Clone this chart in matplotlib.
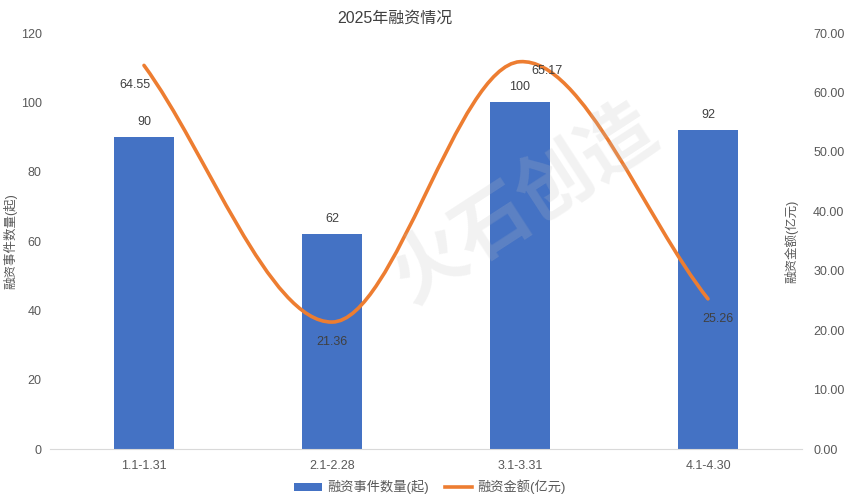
import numpy as np
import matplotlib
matplotlib.use("Agg")
import matplotlib.pyplot as plt
from matplotlib.path import Path
from matplotlib.patches import PathPatch

plt.rcParams['font.family'] = ['Liberation Sans', 'Noto Sans CJK SC', 'DejaVu Sans']

# data
periods = ["1.1-1.31", "2.1-2.28", "3.1-3.31", "4.1-4.30"]
deal_counts = [90, 62, 100, 92]
amounts = [64.55, 21.36, 65.17, 25.26]

bar_color = "#4472C4"
line_color = "#ED7D31"
txt = "#595959"

fig = plt.figure(figsize=(8.58, 5.0), dpi=100)
ax = fig.add_axes([50/858, 51/500, 752/858, 416/500])
ax2 = ax.twinx()

x = np.arange(len(periods))
ax.bar(x, deal_counts, width=0.315, color=bar_color, zorder=2, label="融资事件数量(起)")
for xi, v in zip(x, deal_counts):
    ax.annotate(str(v), (xi, v), xytext=(0, 15), textcoords="offset pixels",
                ha="center", va="center", fontsize=9, color="#404040")

ax.set_xlim(-0.5, len(periods) - 0.5)
ax.set_ylim(0, 120)
ax.set_yticks(range(0, 121, 20))
ax.set_xticks(x)
ax.set_xticklabels(periods)
ax2.set_ylim(0, 70)
ax2.set_yticks(np.arange(0, 71, 10))
ax2.set_yticklabels([f"{v:.2f}" for v in np.arange(0, 71, 10)])

for a in (ax, ax2):
    for s in a.spines.values():
        s.set_visible(False)
    a.tick_params(length=0, labelsize=9, colors=txt)
ax.spines['bottom'].set_visible(True)
ax.spines['bottom'].set_color("#D9D9D9")
ax.tick_params(axis='y', pad=6)
ax2.tick_params(axis='y', pad=8)
ax.tick_params(axis='x', pad=8)

ax.set_ylabel("融资事件数量(起)", fontsize=9, color=txt)
ax2.set_ylabel("融资金额(亿元)", fontsize=9, color=txt)
ax.yaxis.set_label_coords((17 - 50) / 752, 0.5)
ax2.yaxis.set_label_coords((784 - 50) / 752, 0.5)

# smoothed line (Catmull-Rom style bezier)
pts = np.column_stack([x, amounts]).astype(float)
n = len(pts)
tang = np.zeros_like(pts)
for i in range(n):
    a_ = pts[max(i - 1, 0)]
    b_ = pts[min(i + 1, n - 1)]
    tang[i] = (b_ - a_) / (2 if 0 < i < n - 1 else 1)
verts = [tuple(pts[0])]
codes = [Path.MOVETO]
k = 1 / 3
for i in range(n - 1):
    verts += [tuple(pts[i] + tang[i] * k), tuple(pts[i + 1] - tang[i + 1] * k), tuple(pts[i + 1])]
    codes += [Path.CURVE4] * 3
ax2.add_patch(PathPatch(Path(verts, codes), fill=False, edgecolor=line_color, lw=2.6,
                        capstyle="round", zorder=3))
ax2.plot([], [], color=line_color, lw=2.6, label="融资金额(亿元)")

offsets = [(-9, -20), (0, -20), (27, -9), (10, -20)]
for xi, v, off in zip(x, amounts, offsets):
    ax2.annotate(f"{v:.2f}", (xi, v), xytext=off, textcoords="offset pixels",
                 ha="center", va="center", fontsize=9, color="#404040", zorder=4)

# watermark
fig.text(525/858, 1 - 205/500, "火石创造", fontsize=54, color="#BFBFBF", alpha=0.2,
         rotation=33, ha="center", va="center", fontweight="bold")

fig.text(395/858, 1 - 18/500, "2025年融资情况", fontsize=11.5, color="#404040",
         ha="center", va="center")

h1, l1 = ax.get_legend_handles_labels()
h2, l2 = ax2.get_legend_handles_labels()
fig.legend(h1 + h2, l1 + l2, loc="center", bbox_to_anchor=(430/858, 1 - 487/500), ncol=2,
           frameon=False, fontsize=9.5, labelcolor=txt, handlelength=2.1,
           handleheight=0.6, handletextpad=0.4, columnspacing=1.2)

fig.savefig("out.png", dpi=100)
